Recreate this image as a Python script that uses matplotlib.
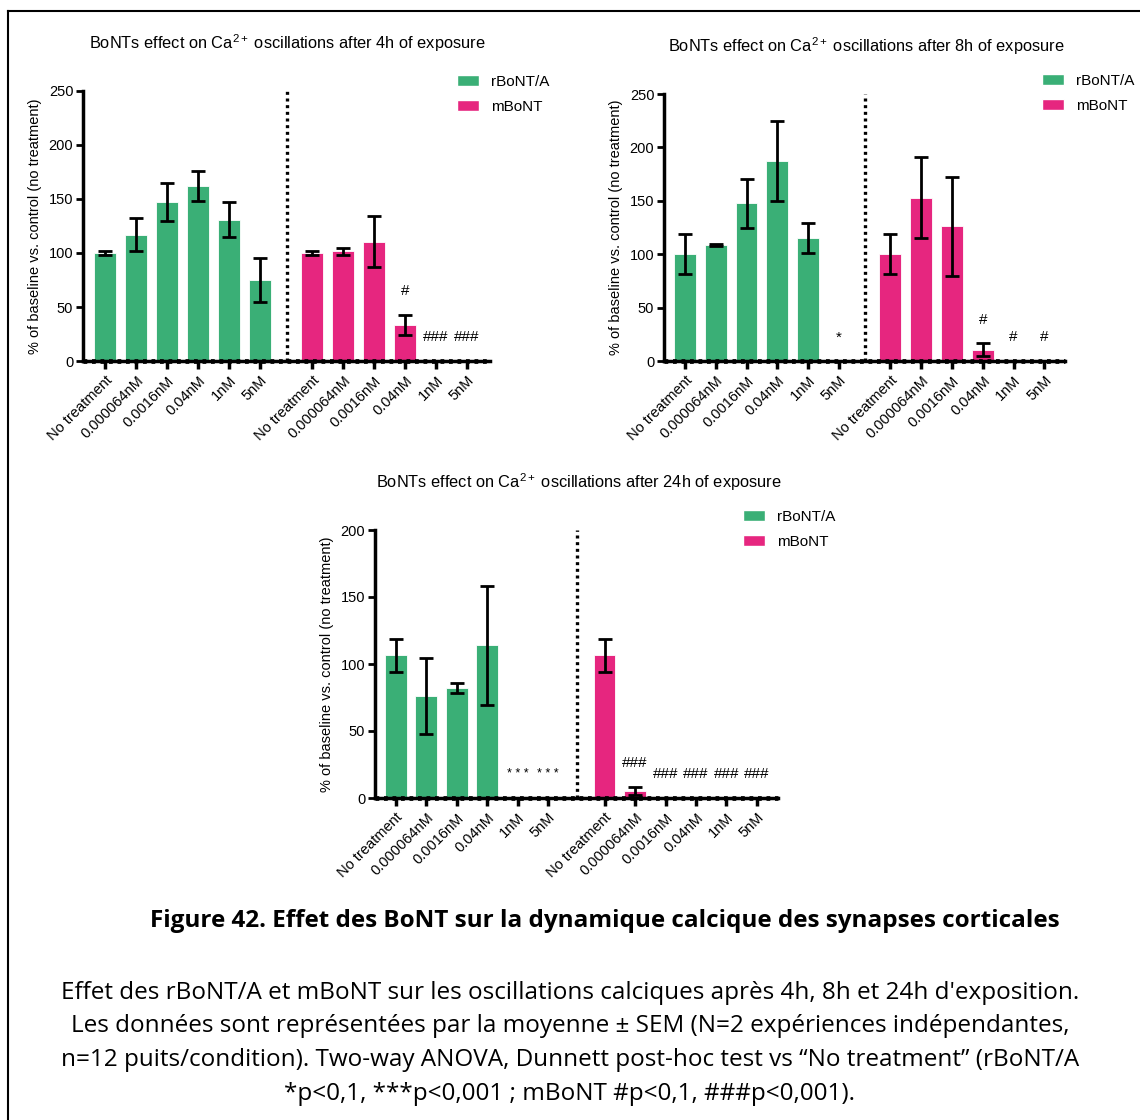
import matplotlib
matplotlib.use("Agg")
import matplotlib.pyplot as plt
from matplotlib.patches import Patch
from matplotlib.lines import Line2D
import numpy as np

plt.rcParams['font.family'] = ['Liberation Sans', 'DejaVu Sans']
plt.rcParams['mathtext.fontset'] = 'custom'
plt.rcParams['mathtext.rm'] = 'Liberation Sans'
plt.rcParams['mathtext.it'] = 'Liberation Sans:italic'
plt.rcParams['mathtext.bf'] = 'Liberation Sans:bold'

# ---- data (mean and SEM, % of baseline vs control) ----
conc = ["No treatment", "0.000064nM", "0.0016nM", "0.04nM", "1nM", "5nM"]
treatments = ["rBoNT/A", "mBoNT"]

h4_rbont = [100, 117, 147.5, 162, 131, 75]
h4_rbont_sem = [2, 15, 17.5, 14, 16, 20]
h4_mbont = [100, 101.5, 110.5, 33.5, 0, 0]
h4_mbont_sem = [2, 3.5, 23.5, 9.5, 0, 0]
h4_rbont_sig = ["", "", "", "", "", ""]
h4_mbont_sig = ["", "", "", "#", "###", "###"]

h8_rbont = [100, 108.5, 147.5, 187, 115, 0]
h8_rbont_sem = [18.5, 1, 22.5, 37.5, 14, 0]
h8_mbont = [100, 153, 126, 10.5, 0, 0]
h8_mbont_sem = [18.5, 38, 46, 6, 0, 0]
h8_rbont_sig = ["", "", "", "", "", "*"]
h8_mbont_sig = ["", "", "", "#", "#", "#"]

h24_rbont = [106.5, 76, 82, 114, 0, 0]
h24_rbont_sem = [12.5, 28.5, 3.5, 44.5, 0, 0]
h24_mbont = [106.5, 5.5, 0, 0, 0, 0]
h24_mbont_sem = [12.5, 3, 0, 0, 0, 0]
h24_rbont_sig = ["", "", "", "", "* * *", "* * *"]
h24_mbont_sig = ["", "###", "###", "###", "###", "###"]

GREEN = '#3aaf76'
PINK = '#e6267f'

W, H = 1140, 1120
fig = plt.figure(figsize=(W / 100, H / 100), dpi=100)


def fig_rect(l, t, r, b):
    return [l / W, 1 - b / H, (r - l) / W, (b - t) / H]


def draw_panel(rect, title, title_xy, vals, ymax, step, gap, divider, xlim, leg_xy):
    rb, rb_err, mb, mb_err, rb_sig, mb_sig = vals
    ax = fig.add_axes(rect)
    xg = np.arange(len(conc))
    xp = xg + gap
    for x, m, e, sig, col in [(xg, rb, rb_err, rb_sig, GREEN), (xp, mb, mb_err, mb_sig, PINK)]:
        m = np.array(m, float)
        e = np.array(e, float)
        ax.bar(x, m, width=0.71, color=col, edgecolor='white', linewidth=0.6, zorder=2)
        keep = e > 0
        ax.errorbar(x[keep], m[keep], yerr=e[keep], fmt='none', ecolor='black',
                    elinewidth=2, capsize=5, capthick=2, zorder=3, clip_on=False)
        for xi, mi, ei, s in zip(x, m, e, sig):
            if s:
                fs = 9 if ' ' in s else 11
                ax.annotate(s, (xi, mi + ei), xytext=(0, 17), textcoords='offset points',
                            ha='center', va='center', fontsize=fs, zorder=4)
    ax.plot([divider, divider], [0, ymax], ls=(0, (0.9, 1.1)), lw=2.4, color='black',
            clip_on=False, zorder=4)
    ax.axhline(0, ls=(0, (0.8, 1.0)), lw=3.4, color='black', clip_on=False, zorder=4)
    ax.set_xlim(*xlim)
    ax.set_ylim(0, ymax)
    ax.set_yticks(np.arange(0, ymax + 1, step))
    ax.set_xticks(np.concatenate([xg, xp]))
    ax.set_xticklabels(conc + conc, rotation=45, ha='right', rotation_mode='anchor', fontsize=10.5)
    ax.tick_params(axis='y', direction='out', length=5, width=2, labelsize=10.5, pad=2)
    ax.tick_params(axis='x', direction='out', length=6, width=2.5, pad=3)
    for s in ['top', 'right']:
        ax.spines[s].set_visible(False)
    for s in ['left', 'bottom']:
        ax.spines[s].set_linewidth(2.5)
    ax.set_ylabel("% of baseline vs. control (no treatment)", fontsize=10.5, labelpad=5)
    fig.text(title_xy[0] / W, 1 - title_xy[1] / H, title, ha='center', va='center', fontsize=11.8)
    handles = [Patch(facecolor=GREEN, edgecolor='white'), Patch(facecolor=PINK, edgecolor='white')]
    fig.legend(handles, treatments, loc='upper left', bbox_to_anchor=(leg_xy[0] / W, 1 - leg_xy[1] / H),
               bbox_transform=fig.transFigure, frameon=False, fontsize=11, borderpad=0,
               borderaxespad=0, handlelength=1.45, handleheight=0.68, handletextpad=0.75,
               labelspacing=0.7)
    return ax


draw_panel(fig_rect(83, 91, 490, 361),
           r"BoNTs effect on Ca$^{2+}$ oscillations after 4h of exposure", (287, 43),
           (h4_rbont, h4_rbont_sem, h4_mbont, h4_mbont_sem, h4_rbont_sig, h4_mbont_sig),
           250, 50, 6.68, 5.87, (-0.71, 12.42), (457, 75))

draw_panel(fig_rect(664, 94, 1065, 361),
           r"BoNTs effect on Ca$^{2+}$ oscillations after 8h of exposure", (866, 46),
           (h8_rbont, h8_rbont_sem, h8_mbont, h8_mbont_sem, h8_rbont_sig, h8_mbont_sig),
           250, 50, 6.67, 5.84, (-0.68, 12.34), (1042, 74))

draw_panel(fig_rect(375, 530, 778, 798),
           r"BoNTs effect on Ca$^{2+}$ oscillations after 24h of exposure", (579, 482),
           (h24_rbont, h24_rbont_sem, h24_mbont, h24_mbont_sem, h24_rbont_sig, h24_mbont_sig),
           200, 50, 6.85, 5.93, (-0.68, 12.54), (743, 510))

# page frame (left and top edges only)
fig.add_artist(Line2D([8 / W, 8 / W], [0, 1 - 11 / H], transform=fig.transFigure, color='black', lw=1.5))
fig.add_artist(Line2D([8 / W, 1], [1 - 11 / H, 1 - 11 / H], transform=fig.transFigure, color='black', lw=1.5))

# caption
fig.text(605 / W, 1 - 921 / H,
         "Figure 42. Effet des BoNT sur la dynamique calcique des synapses corticales",
         ha='center', va='center', fontsize=17.5, fontweight='bold', family='Open Sans')
caption = [
    "Effet des rBoNT/A et mBoNT sur les oscillations calciques après 4h, 8h et 24h d'exposition.",
    "Les données sont représentées par la moyenne ± SEM (N=2 expériences indépendantes,",
    "n=12 puits/condition). Two-way ANOVA, Dunnett post-hoc test vs \u201cNo treatment\u201d (rBoNT/A",
    "*p<0,1, ***p<0,001 ; mBoNT #p<0,1, ###p<0,001).",
]
for i, line in enumerate(caption):
    fig.text(570 / W, 1 - (993 + 33.5 * i) / H, line, ha='center', va='center',
             fontsize=17.5, family='Open Sans')

fig.savefig("out.png", dpi=100)
